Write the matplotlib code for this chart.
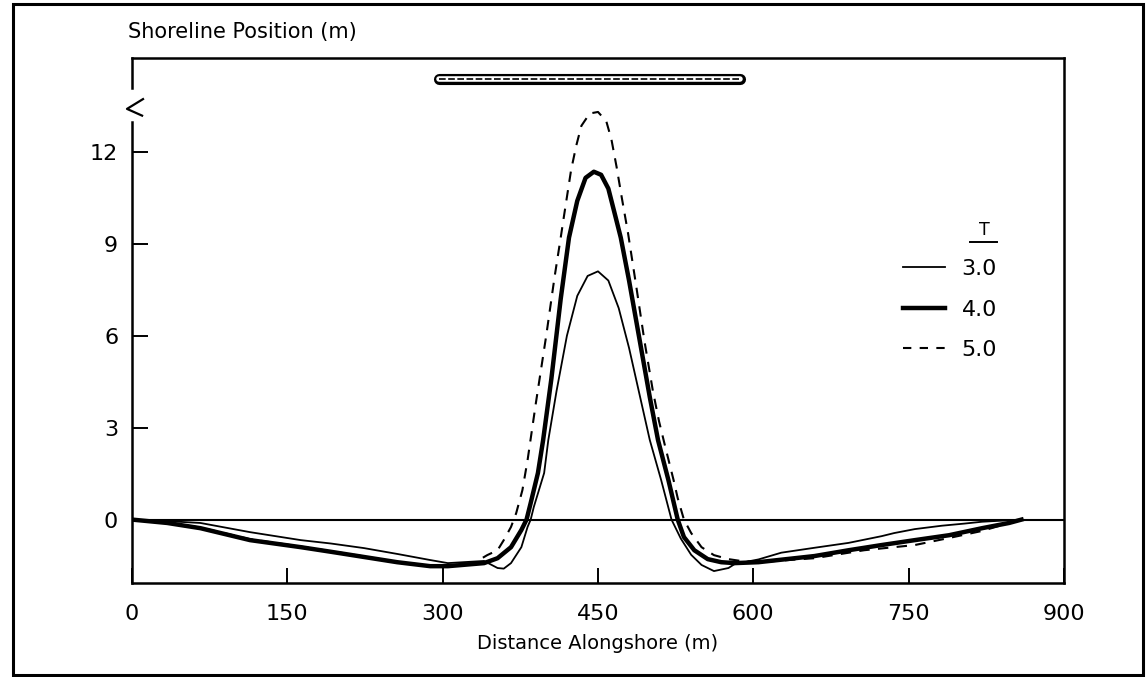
import matplotlib
matplotlib.use('Agg')
import matplotlib.pyplot as plt
from matplotlib.patches import Rectangle
from matplotlib.lines import Line2D

# shoreline position, T = 3.0
x_t3 = [0, 34, 66, 114, 163, 192, 224, 256, 288, 305, 340, 353, 359, 366, 376, 382, 385,
        388, 398, 402, 410, 420, 430, 440, 450, 460, 470, 480, 490, 500, 511, 521, 530,
        540, 550, 562, 576, 582, 605, 627, 659, 692, 724, 736, 756, 782, 804, 821, 859]
y_t3 = [0, -0.05, -0.11, -0.41, -0.67, -0.78, -0.93, -1.12, -1.32, -1.42, -1.35, -1.58,
        -1.60, -1.42, -0.9, -0.24, 0.0, 0.41, 1.52, 2.59, 4.2, 6.0, 7.3, 7.95, 8.1, 7.8,
        6.9, 5.6, 4.1, 2.6, 1.29, 0.0, -0.62, -1.15, -1.48, -1.68, -1.58, -1.45, -1.30,
        -1.08, -0.92, -0.76, -0.54, -0.44, -0.31, -0.20, -0.13, -0.07, 0.0]

# T = 4.0
x_t4 = [0, 34, 66, 114, 163, 192, 224, 256, 288, 305, 340, 353, 366, 376, 381, 385, 392,
        397, 405, 414, 422, 430, 438, 446, 453, 460, 467, 472, 480, 490, 500, 508, 518,
        527, 533, 543, 556, 569, 582, 605, 659, 692, 724, 756, 789, 821, 847, 859]
y_t4 = [0, -0.11, -0.28, -0.67, -0.90, -1.05, -1.22, -1.39, -1.52, -1.52, -1.42, -1.26,
        -0.9, -0.34, 0.0, 0.54, 1.52, 2.59, 4.6, 7.2, 9.2, 10.4, 11.15, 11.35, 11.25, 10.8,
        9.87, 9.2, 7.8, 5.9, 4.0, 2.59, 1.29, 0.0, -0.57, -1.0, -1.29, -1.39, -1.42, -1.39,
        -1.19, -1.0, -0.83, -0.67, -0.51, -0.28, -0.11, 0.0]

# T = 5.0
x_t5 = [0, 34, 66, 114, 163, 211, 259, 288, 305, 330, 343, 353, 359, 366, 371, 377, 382,
        390, 400, 408, 414, 417, 424, 429, 434, 442, 450, 458, 463, 468, 473, 479, 487,
        495, 503, 509, 515, 523, 527, 533, 540, 550, 562, 576, 588, 605, 659, 707, 756,
        789, 821, 840, 859]
y_t5 = [0, -0.1, -0.26, -0.64, -0.88, -1.13, -1.40, -1.50, -1.50, -1.42, -1.16, -1.0,
        -0.67, -0.24, 0.21, 0.96, 1.94, 3.8, 6.0, 7.9, 9.2, 9.87, 11.4, 12.2, 12.85, 13.25,
        13.3, 13.0, 12.4, 11.5, 10.5, 9.35, 7.6, 5.8, 4.2, 3.2, 2.37, 1.29, 0.7, 0.0, -0.44,
        -0.9, -1.16, -1.29, -1.35, -1.39, -1.26, -1.0, -0.83, -0.6, -0.37, -0.18, 0.0]

labels = ['3.0', '4.0', '5.0']
x_ticks = [0, 150, 300, 450, 600, 750, 900]
y_ticks = [0, 3, 6, 9, 12]

# breakwater
breakwater_x = [296, 587]
breakwater_y = 14.36

fig = plt.figure(figsize=(11.47, 6.77), dpi=100)
ax = fig.add_axes([0.1151, 0.1388, 0.8125, 0.7755])

ax.plot(x_t3, y_t3, color='black', lw=1.3)
ax.plot(x_t4, y_t4, color='black', lw=3.2)
ax.plot(x_t5, y_t5, color='black', lw=1.5, dashes=(5, 4))
ax.axhline(0, color='black', lw=1.5)

# breakwater bar
ax.plot(breakwater_x, [breakwater_y] * 2, color='black', lw=8, solid_capstyle='round', clip_on=False)
ax.plot(breakwater_x, [breakwater_y] * 2, color='white', lw=4, solid_capstyle='round', clip_on=False)
ax.plot(breakwater_x, [breakwater_y] * 2, color='black', lw=1.2, dashes=(4, 1.5), clip_on=False)

ax.set_xlim(0, 900)
ax.set_ylim(-2.07, 15.06)
ax.set_xticks(x_ticks)
ax.set_yticks(y_ticks)
ax.tick_params(direction='in', labelsize=16, width=1.4)
ax.tick_params(axis='x', length=11, pad=15)
ax.tick_params(axis='y', length=11.5, pad=10)
for s in ['top', 'right', 'bottom']:
    ax.spines[s].set_linewidth(1.8)

# left spine with a break symbol
ax.spines['left'].set_visible(False)
ytr = ax.get_yaxis_transform()
ax.plot([0, 0], [-2.07, 12.97], color='black', lw=1.8, transform=ytr, clip_on=False)
ax.plot([0, 0], [14.07, 15.06], color='black', lw=1.8, transform=ytr, clip_on=False)
ax.plot([0.0118, -0.0054, 0.0108], [13.72, 13.40, 13.18], color='black', lw=1.6,
        transform=ytr, clip_on=False)

ax.set_xlabel('Distance Alongshore (m)', fontsize=14, labelpad=7)
fig.text(128 / 1147, 1 - 38 / 677, 'Shoreline Position (m)', fontsize=15, va='baseline')

handles = [Line2D([], [], color='black', lw=1.3),
           Line2D([], [], color='black', lw=3.2),
           Line2D([], [], color='black', lw=1.5, dashes=(4, 4))]
ax.legend(handles, labels, loc='upper left', bbox_to_anchor=(0.827, 0.617), frameon=False,
          fontsize=16, handlelength=1.9, handletextpad=0.75, labelspacing=0.92, borderpad=0,
          borderaxespad=0)
ax.text(0.915, 0.656, 'T', transform=ax.transAxes, fontsize=12.5, ha='center', va='bottom')
ax.plot([0.899, 0.928], [0.65, 0.65], color='black', lw=1.4, transform=ax.transAxes)

# outer frame
fig.patches.append(Rectangle((13 / 1147, 2 / 677), 1130 / 1147, 671 / 677, transform=fig.transFigure,
                             fill=False, edgecolor='black', lw=2.2))

fig.savefig('out.png', dpi=100)
